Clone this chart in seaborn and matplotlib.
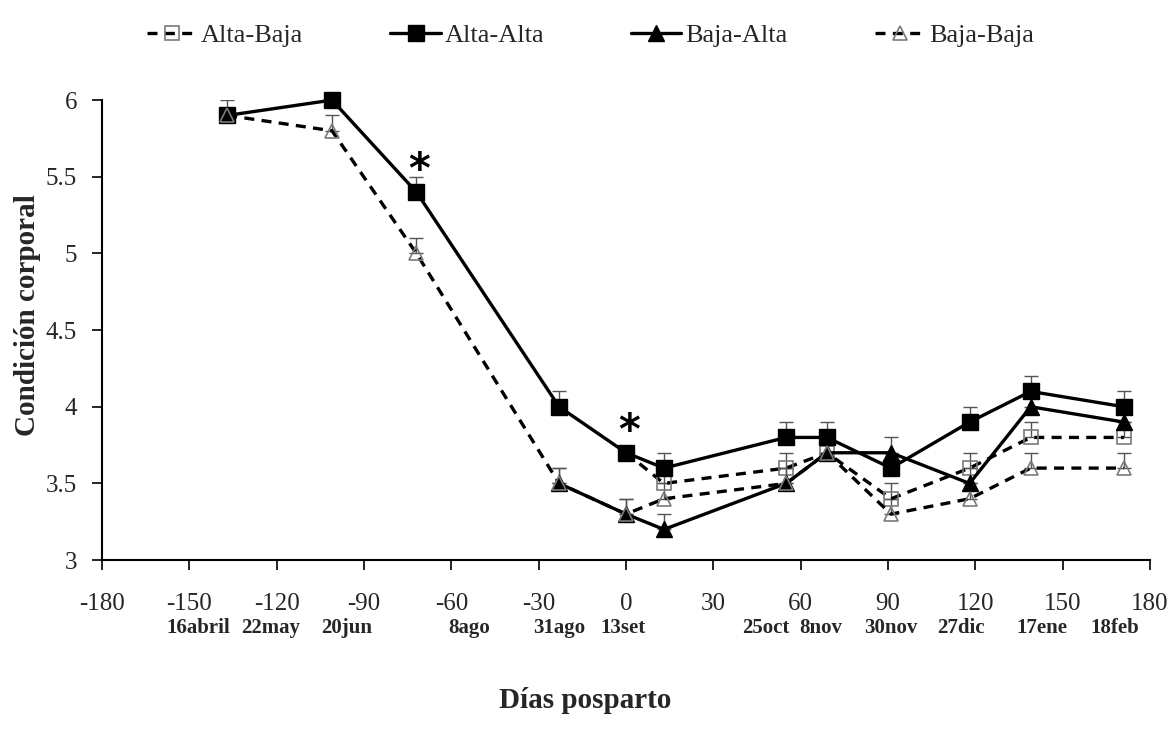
import numpy as np
import pandas as pd
import seaborn as sns
import matplotlib.pyplot as plt
from matplotlib import transforms

# days relative to 31 Aug (parto)
dias = [-137, -101, -72, -23, 0, 13, 55, 69, 91, 118, 139, 171]
fechas = ["16abril", "22may", "20jun", "8ago", "31ago", "13set",
          "25oct", "8nov", "30nov", "27dic", "17ene", "18feb"]
fecha_x = [-147, -122, -96, -54, -23, -1, 48, 67, 91, 115, 143, 168]

alta_baja = [np.nan, np.nan, np.nan, np.nan, 3.7, 3.5, 3.6, 3.7, 3.4, 3.6, 3.8, 3.8]
alta_alta = [5.9, 6.0, 5.4, 4.0, 3.7, 3.6, 3.8, 3.8, 3.6, 3.9, 4.1, 4.0]
baja_alta = [np.nan, np.nan, np.nan, 3.5, 3.3, 3.2, 3.5, 3.7, 3.7, 3.5, 4.0, 3.9]
baja_baja = [5.9, 5.8, 5.0, 3.5, 3.3, 3.4, 3.5, 3.7, 3.3, 3.4, 3.6, 3.6]

ee_alta_baja = [0, 0, 0, 0, 0, 0.1, 0.1, 0.1, 0.1, 0.1, 0.1, 0.1]
ee_alta_alta = [0.1, 0, 0.1, 0.1, 0, 0.1, 0.1, 0.1, 0.1, 0.1, 0.1, 0.1]
ee_baja_alta = [0, 0, 0, 0.1, 0.1, 0.1, 0.1, 0.1, 0.1, 0.1, 0.1, 0.1]
ee_baja_baja = [0, 0.1, 0.1, 0.1, 0.1, 0.1, 0.1, 0.1, 0.1, 0.1, 0.1, 0.1]

asteriscos_x = [-72, 0]
asteriscos_y = [5.4, 3.7]

sns.set_style("ticks")
plt.rcParams['font.family'] = ['Liberation Serif', 'DejaVu Serif']
plt.rcParams['axes.unicode_minus'] = False

fig = plt.figure(figsize=(11.69, 7.36), dpi=100)
ax = fig.add_axes([0.0873, 0.239, 0.8965, 0.625])

series = [
    ("Alta-Baja", alta_baja, ee_alta_baja, dict(marker="s", ls=(0, (3, 2.2)), mfc="none", mec="#7a7a7a", ms=10, mew=1.2)),
    ("Alta-Alta", alta_alta, ee_alta_alta, dict(marker="s", ls="-", mfc="black", mec="black", ms=12)),
    ("Baja-Alta", baja_alta, ee_baja_alta, dict(marker="^", ls="-", mfc="black", mec="black", ms=11)),
    ("Baja-Baja", baja_baja, ee_baja_baja, dict(marker="^", ls=(0, (3, 2.2)), mfc="none", mec="#7a7a7a", ms=10, mew=1.2)),
]

for nombre, vals, ee, st in series:
    df = pd.DataFrame({"dia": dias, "cc": vals, "ee": ee}).dropna()
    df_e = df[df["ee"] > 0]
    ax.errorbar(df_e["dia"], df_e["cc"], yerr=[np.zeros(len(df_e)), df_e["ee"]],
                fmt="none", ecolor="#555555", elinewidth=1, capsize=5, capthick=1, zorder=1)
    sns.lineplot(x=df["dia"], y=df["cc"], ax=ax, color="black", lw=2.4,
                 linestyle=st["ls"], marker=st["marker"], markersize=st["ms"],
                 markerfacecolor=st["mfc"], markeredgecolor=st["mec"],
                 markeredgewidth=st.get("mew", 1), label=nombre, zorder=3,
                 clip_on=False)

for xa, ya in zip(asteriscos_x, asteriscos_y):
    ax.text(xa + 1, ya, "*", fontsize=30, fontweight="bold", ha="center",
            va="bottom", family="DejaVu Sans", color="black")

ax.set_xlim(-180, 180)
ax.set_ylim(3, 6)
ax.set_xticks(range(-180, 181, 30))
ax.set_yticks([3, 3.5, 4, 4.5, 5, 5.5, 6])
ax.set_yticklabels(["3", "3.5", "4", "4.5", "5", "5.5", "6"])
ax.tick_params(axis="both", labelsize=18, length=7, width=1.2, color="black", direction="out")
ax.tick_params(axis="x", pad=17)
ax.tick_params(axis="y", pad=11)
sns.despine(ax=ax)
for s in ["left", "bottom"]:
    ax.spines[s].set_linewidth(1.5)
    ax.spines[s].set_color("black")

trans = transforms.blended_transform_factory(ax.transData, ax.transAxes)
for fx, f in zip(fecha_x, fechas):
    ax.text(fx, -0.148, f, transform=trans, ha="center", va="center",
            fontsize=15, fontweight="bold")

ax.set_xlabel("Días posparto", fontsize=21, fontweight="bold")
ax.xaxis.set_label_coords(0.461, -0.275)
ax.set_ylabel("Condición corporal", fontsize=21, fontweight="bold")
ax.yaxis.set_label_coords(-0.058, 0.533)

ax.get_legend().remove()
h, l = ax.get_legend_handles_labels()
fig.legend(h, l, loc="upper center", bbox_to_anchor=(0.505, 1.0), ncol=4,
           frameon=False, fontsize=19, handlelength=1.9, handletextpad=0.15,
           columnspacing=3.3)

fig.savefig("out.png", dpi=100)
